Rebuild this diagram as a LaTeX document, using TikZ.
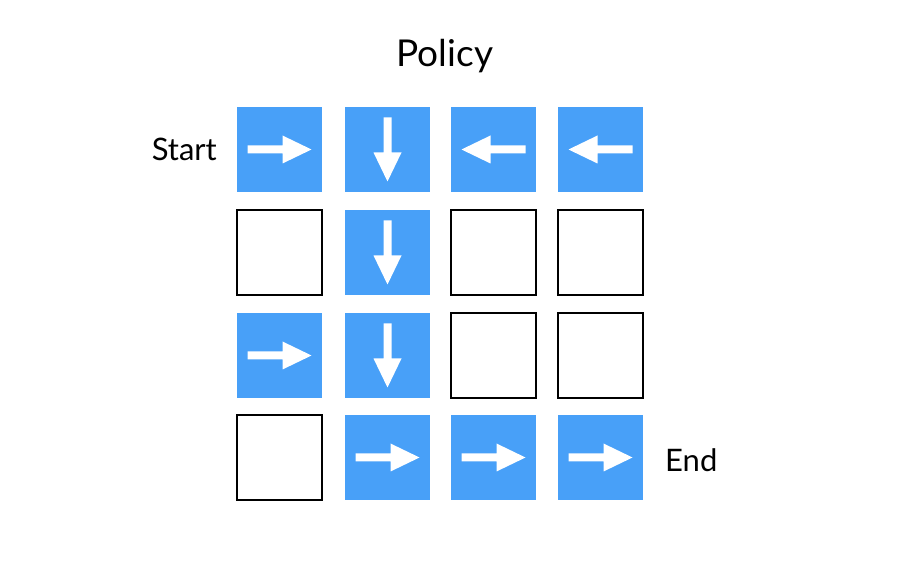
\documentclass[tikz,border=0pt]{standalone}
\usepackage{fontspec}
\setmainfont{Lato}
\definecolor{cellblue}{RGB}{72,160,248}
\begin{document}
\begin{tikzpicture}[x=1pt,y=1pt,
  bluecell/.style={fill=cellblue,draw=none,minimum size=85pt,inner sep=0pt},
  emptycell/.style={draw=black,line width=1.5pt,fill=white,minimum size=85pt,inner sep=0pt},
  lbl/.style={font=\fontsize{31}{34}\selectfont,inner sep=0pt},
  rarrow/.pic={\fill[white] (-32,-4) -- (3,-4) -- (3,-14) -- (32,0) -- (3,14) -- (3,4) -- (-32,4) -- cycle;}]
\useasboundingbox (0,0) rectangle (900,576);
\node[font=\fontsize{37}{40}\selectfont,inner sep=0pt,anchor=base] (title) at (445,509) {Policy};
% row 1
\node[bluecell] (c11) at (279.5,426.5) {};
\node[bluecell] (c12) at (387.5,426.5) {};
\node[bluecell] (c13) at (493.5,426.5) {};
\node[bluecell] (c14) at (600.5,426.5) {};
% row 2
\node[emptycell] (c21) at (279.5,323.5) {};
\node[bluecell] (c22) at (387.5,323.5) {};
\node[emptycell] (c23) at (493.5,323.5) {};
\node[emptycell] (c24) at (600.5,323.5) {};
% row 3
\node[bluecell] (c31) at (279.5,220.5) {};
\node[bluecell] (c32) at (387.5,220.5) {};
\node[emptycell] (c33) at (493.5,220.5) {};
\node[emptycell] (c34) at (600.5,220.5) {};
% row 4
\node[emptycell] (c41) at (279.5,118.5) {};
\node[bluecell] (c42) at (387.5,118.5) {};
\node[bluecell] (c43) at (493.5,118.5) {};
\node[bluecell] (c44) at (600.5,118.5) {};
% arrows
\pic at (c11) {rarrow};
\pic[rotate=-90] at (c12) {rarrow};
\pic[rotate=180] at (c13) {rarrow};
\pic[rotate=180] at (c14) {rarrow};
\pic[rotate=-90] at (c22) {rarrow};
\pic at (c31) {rarrow};
\pic[rotate=-90] at (c32) {rarrow};
\pic at (c42) {rarrow};
\pic at (c43) {rarrow};
\pic at (c44) {rarrow};
% labels
\node[lbl,anchor=base east] (start) at (217,415) {Start};
\node[lbl,anchor=base west] (end) at (665,104) {End};
\end{tikzpicture}
\end{document}
